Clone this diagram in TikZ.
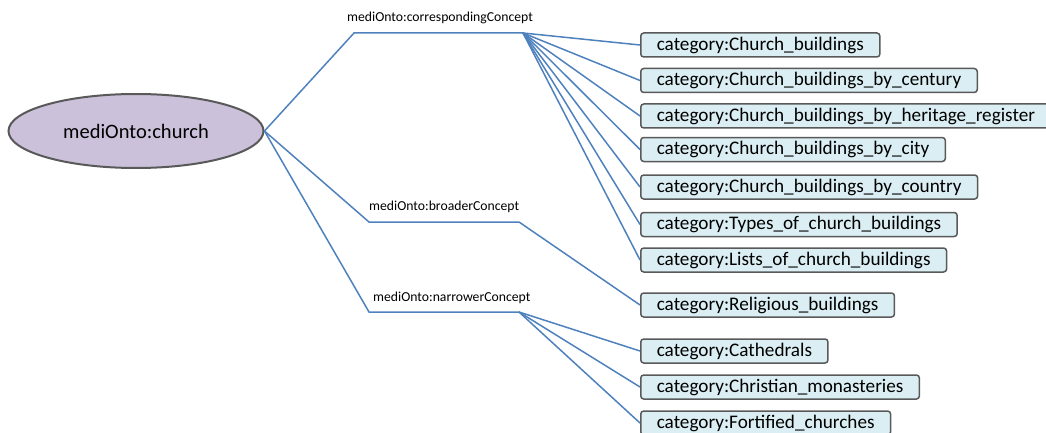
\documentclass[tikz,border=0pt]{standalone}
\usepackage{fontspec}
\setmainfont{Carlito}
\usetikzlibrary{shapes.geometric}
\definecolor{linkblue}{HTML}{4F81BD}
\definecolor{boxfill}{HTML}{DAEEF3}
\definecolor{boxedge}{HTML}{595959}
\definecolor{ellfill}{HTML}{CCC1DA}
\tikzset{
  catbox/.style={draw=boxedge, fill=boxfill, line width=1.5pt, rounded corners=3pt,
    anchor=west, minimum height=24pt, inner xsep=16pt, inner ysep=0pt,
    font=\fontsize{19.2}{21}\selectfont},
  rellabel/.style={anchor=west, inner sep=0pt, font=\fontsize{13.7}{15}\selectfont},
  link/.style={draw=linkblue, line width=1.5pt}
}
\begin{document}
\begin{tikzpicture}[x=1pt,y=-1pt]
\useasboundingbox (0,0) rectangle (1046,433);
\node[ellipse, draw=boxedge, fill=ellfill, line width=2pt, minimum width=255pt,
  minimum height=74pt, inner sep=0pt, font=\fontsize{20.5}{22}\selectfont]
  (church) at (136,131) {mediOnto:church};
% hubs
\coordinate (c1) at (354,33);
\coordinate (c2) at (523,33);
\coordinate (b1) at (369,222);
\coordinate (b2) at (519,222);
\coordinate (n1) at (369,312);
\coordinate (n2) at (519,312);
\node[rellabel] (lc) at (347,18) {mediOnto:correspondingConcept};
\node[rellabel] (lb) at (369,207) {mediOnto:broaderConcept};
\node[rellabel] (ln) at (373,298) {mediOnto:narrowerConcept};
% boxes
\node[catbox] (k1) at (640,45) {category:Church\_buildings};
\node[catbox] (k2) at (640,80.5) {category:Church\_buildings\_by\_century};
\node[catbox] (k3) at (640,116) {category:Church\_buildings\_by\_heritage\_register};
\node[catbox] (k4) at (640,149.5) {category:Church\_buildings\_by\_city};
\node[catbox] (k5) at (640,187) {category:Church\_buildings\_by\_country};
\node[catbox] (k6) at (640,224.5) {category:Types\_of\_church\_buildings};
\node[catbox] (k7) at (640,260) {category:Lists\_of\_church\_buildings};
\node[catbox] (k8) at (640,305) {category:Religious\_buildings};
\node[catbox] (k9) at (640,351) {category:Cathedrals};
\node[catbox] (k10) at (640,387) {category:Christian\_monasteries};
\node[catbox] (k11) at (640,423) {category:Fortified\_churches};
% links
\draw[link] (church.east) -- (c1) -- (c2);
\draw[link] (church.east) -- (b1) -- (b2);
\draw[link] (church.east) -- (n1) -- (n2);
\foreach \k in {k1,k2,k3,k4,k5,k6,k7} \draw[link] (c2) -- (\k.west);
\draw[link] (b2) -- (k8.west);
\foreach \k in {k9,k10,k11} \draw[link] (n2) -- (\k.west);
\end{tikzpicture}
\end{document}
